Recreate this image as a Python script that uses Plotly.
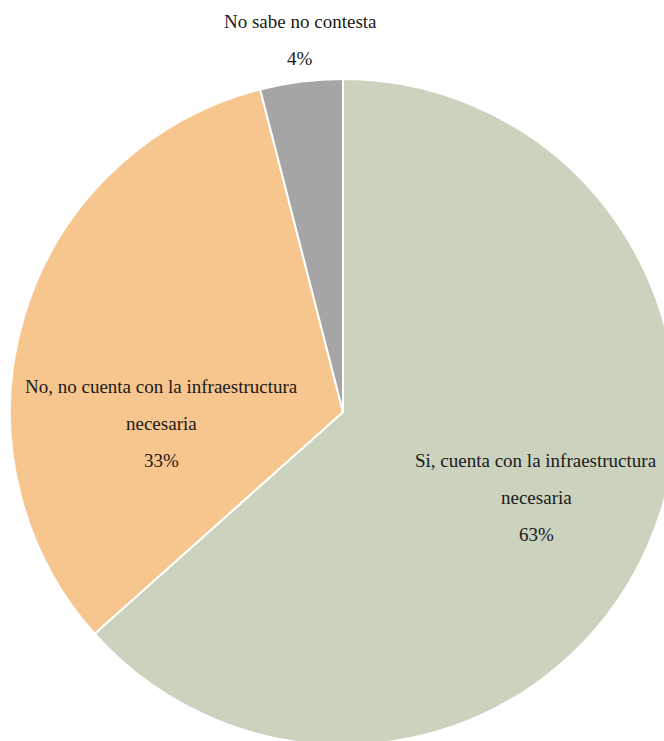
import plotly.graph_objects as go

labels = [
    "Si, cuenta con la infraestructura<br>necesaria",
    "No, no cuenta con la infraestructura<br>necesaria",
    "No sabe no contesta",
]
values = [63.4, 32.6, 4.0]
colors = ["#CBD3BE", "#F6C68E", "#A5A5A5"]

W, H = 690, 760
total = sum(values)

fig = go.Figure(
    go.Pie(
        labels=labels,
        values=values,
        sort=False,
        direction="clockwise",
        rotation=0,
        marker=dict(colors=colors, line=dict(color="white", width=2)),
        textinfo="none",
        hoverinfo="skip",
        showlegend=False,
        domain=dict(x=[10 / W, 676 / W], y=[(H - 745) / H, (H - 79) / H]),
    )
)

# label anchor (pixel x, pixel y of first line) per slice
label_pos = [(536, 460), (161, 386), (300, 21)]
line_gap = 37
for lab, v, (px, py) in zip(labels, values, label_pos):
    lines = lab.split("<br>") + [f"{round(v / total * 100)}%"]
    for i, ln in enumerate(lines):
        fig.add_annotation(
            x=px / W,
            y=(H - (py + i * line_gap)) / H,
            xref="paper",
            yref="paper",
            text=ln,
            showarrow=False,
            xanchor="center",
            yanchor="middle",
            font=dict(family="Liberation Serif", size=19, color="#1a1a1a"),
        )

fig.update_layout(
    width=W,
    height=H,
    margin=dict(l=0, r=0, t=0, b=0),
    paper_bgcolor="white",
    plot_bgcolor="white",
)

fig.write_html(
    "out.html",
    config={"displayModeBar": False},
    post_script="document.body.style.overflow='hidden';document.documentElement.style.overflow='hidden';document.body.style.margin='0';",
)
